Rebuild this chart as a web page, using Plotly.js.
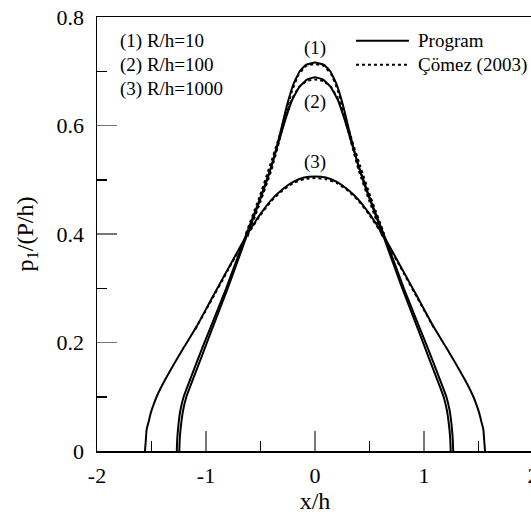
<!DOCTYPE html>
<html>
<head>
<meta charset="utf-8">
<script src="https://cdn.plot.ly/plotly-3.0.1.min.js"></script>
<style>
html, body { margin: 0; padding: 0; background: #fff; }
#wrap { width: 531px; height: 518px; overflow: hidden; position: relative; }
</style>
</head>
<body>
<div id="wrap"><div id="chart" style="width:540px;height:518px"></div></div>
<script>
// ---- Data ----
// Program, (1) R/h=10
const x1 = [-1.245, -1.240, -1.228, -1.210, -1.180, -1.120, -1.040, -0.950, -0.800, -0.620, -0.500, -0.400, -0.320, -0.260, -0.200, -0.140, -0.080, 0.000,
             0.080, 0.140, 0.200, 0.260, 0.320, 0.400, 0.500, 0.620, 0.800, 0.950, 1.040, 1.120, 1.180, 1.210, 1.228, 1.240, 1.245];
const p1 = [0.000, 0.025, 0.050, 0.075, 0.100, 0.132, 0.174, 0.222, 0.300, 0.400, 0.465, 0.525, 0.585, 0.635, 0.675, 0.700, 0.712, 0.716,
            0.712, 0.700, 0.675, 0.635, 0.585, 0.525, 0.465, 0.400, 0.300, 0.222, 0.174, 0.132, 0.100, 0.075, 0.050, 0.025, 0.000];
// Program, (2) R/h=100
const x2 = [-1.268, -1.263, -1.252, -1.235, -1.205, -1.145, -1.065, -0.970, -0.815, -0.630, -0.505, -0.405, -0.330, -0.270, -0.210, -0.140, -0.070, 0.000,
             0.070, 0.140, 0.210, 0.270, 0.330, 0.405, 0.505, 0.630, 0.815, 0.970, 1.065, 1.145, 1.205, 1.235, 1.252, 1.263, 1.268];
const p2 = [0.000, 0.025, 0.050, 0.075, 0.100, 0.132, 0.174, 0.222, 0.300, 0.400, 0.465, 0.522, 0.572, 0.612, 0.647, 0.672, 0.685, 0.689,
            0.685, 0.672, 0.647, 0.612, 0.572, 0.522, 0.465, 0.400, 0.300, 0.222, 0.174, 0.132, 0.100, 0.075, 0.050, 0.025, 0.000];
// Program, (3) R/h=1000
const x3 = [-1.560, -1.552, -1.545, -1.525, -1.507, -1.480, -1.453, -1.400, -1.300, -1.200, -1.085, -0.950, -0.800, -0.620, -0.500, -0.400, -0.300, -0.200, -0.100, 0.000,
             0.100, 0.200, 0.300, 0.400, 0.500, 0.620, 0.800, 0.950, 1.085, 1.200, 1.300, 1.400, 1.453, 1.480, 1.507, 1.525, 1.545, 1.552, 1.560];
const p3 = [0.000, 0.020, 0.039, 0.055, 0.070, 0.086, 0.100, 0.122, 0.158, 0.192, 0.230, 0.280, 0.335, 0.400, 0.437, 0.463, 0.482, 0.496, 0.504, 0.506,
            0.504, 0.496, 0.482, 0.463, 0.437, 0.400, 0.335, 0.280, 0.230, 0.192, 0.158, 0.122, 0.100, 0.086, 0.070, 0.055, 0.039, 0.020, 0.000];
// Çömez (2003), dotted
const xc1 = [-0.620, -0.500, -0.400, -0.330, -0.270, -0.210, -0.150, -0.080, 0.000, 0.080, 0.150, 0.210, 0.270, 0.330, 0.400, 0.500, 0.620];
const pc1 = [0.395, 0.460, 0.518, 0.570, 0.620, 0.664, 0.694, 0.710, 0.713, 0.710, 0.694, 0.664, 0.620, 0.570, 0.518, 0.460, 0.395];
const xc2 = [-0.635, -0.510, -0.415, -0.340, -0.280, -0.220, -0.150, -0.075, 0.000, 0.075, 0.150, 0.220, 0.280, 0.340, 0.415, 0.510, 0.635];
const pc2 = [0.400, 0.468, 0.525, 0.572, 0.612, 0.645, 0.670, 0.682, 0.685, 0.682, 0.670, 0.645, 0.612, 0.572, 0.525, 0.468, 0.400];
const xc3 = [-1.100, -0.950, -0.800, -0.620, -0.500, -0.400, -0.300, -0.200, -0.100, 0.000, 0.100, 0.200, 0.300, 0.400, 0.500, 0.620, 0.800, 0.950, 1.100];
const pc3 = [0.224, 0.278, 0.333, 0.398, 0.435, 0.461, 0.480, 0.494, 0.501, 0.503, 0.501, 0.494, 0.480, 0.461, 0.435, 0.398, 0.333, 0.278, 0.224];

const xTickVals = [-2, -1, 0, 1, 2];
const xTickText = ['-2', '-1', '0', '1', '2'];
const yTickVals = [0, 0.2, 0.4, 0.6, 0.8];
const yTickText = ['0', '0.2', '0.4', '0.6', '0.8'];
const curveLabels = ['(1)', '(2)', '(3)'];
const caseLabels = ['(1) R/h=10', '(2) R/h=100', '(3) R/h=1000'];
const seriesNames = ['Program', 'Çömez (2003)'];

// ---- Chart ----
const FONT = 'Liberation Serif';
const solid = {color: '#000', width: 2, shape: 'spline', smoothing: 0.4};
const dotted = {color: '#000', width: 2, dash: 'dot', shape: 'spline', smoothing: 0.4};

const traces = [
  {x: x1, y: p1, mode: 'lines', line: solid, showlegend: false},
  {x: x2, y: p2, mode: 'lines', line: solid, showlegend: false},
  {x: x3, y: p3, mode: 'lines', line: solid, showlegend: false},
  {x: xc1, y: pc1, mode: 'lines', line: dotted, showlegend: false},
  {x: xc2, y: pc2, mode: 'lines', line: dotted, showlegend: false},
  {x: xc3, y: pc3, mode: 'lines', line: dotted, showlegend: false}
];

const annotations = [];
const curveLabelY = [0.743, 0.643, 0.533];
curveLabels.forEach((t, i) => annotations.push({
  x: 0, y: curveLabelY[i], xref: 'x', yref: 'y', text: t, showarrow: false,
  font: {family: FONT, size: 19}, xanchor: 'center', yanchor: 'middle'
}));
const caseLabelY = [0.755, 0.712, 0.668];
caseLabels.forEach((t, i) => annotations.push({
  x: -1.81, y: caseLabelY[i], xref: 'x', yref: 'y', text: t, showarrow: false,
  font: {family: FONT, size: 19}, xanchor: 'left', yanchor: 'middle'
}));
const legY = [0.756, 0.712];
seriesNames.forEach((t, i) => annotations.push({
  x: 0.93, y: legY[i], xref: 'x', yref: 'y', text: t, showarrow: false,
  font: {family: FONT, size: 19}, xanchor: 'left', yanchor: 'middle'
}));
const shapes = [
  {type: 'line', xref: 'x', yref: 'y', x0: 0.376, x1: 0.862, y0: legY[0], y1: legY[0], line: {color: '#000', width: 2}},
  {type: 'line', xref: 'x', yref: 'y', x0: 0.376, x1: 0.862, y0: legY[1], y1: legY[1], line: {color: '#000', width: 2, dash: 'dot'}}
];

const layout = {
  width: 540, height: 518,
  margin: {l: 97, r: 7, t: 17, b: 67},
  paper_bgcolor: '#fff', plot_bgcolor: '#fff',
  font: {family: FONT, color: '#000'},
  showlegend: false,
  xaxis: {
    range: [-2, 2], showgrid: false, zeroline: false,
    showline: true, linecolor: '#000', linewidth: 1.5, mirror: true,
    ticks: 'inside', ticklen: 20, tickwidth: 1.5, tickcolor: '#777',
    tickvals: xTickVals, ticktext: xTickText, ticklabelstandoff: 4,
    minor: {ticks: 'inside', ticklen: 10, tickwidth: 1.5, tickcolor: '#000', dtick: 0.5, tick0: 0, showgrid: false},
    tickfont: {family: FONT, size: 22},
    title: {text: 'x/h', font: {family: FONT, size: 24}, standoff: 4}
  },
  yaxis: {
    range: [0, 0.8], showgrid: false, zeroline: false,
    showline: true, linecolor: '#000', linewidth: 1.5,
    ticks: 'inside', ticklen: 20, tickwidth: 1.5, tickcolor: '#777',
    tickvals: yTickVals, ticktext: yTickText, ticklabelstandoff: 7,
    minor: {ticks: 'inside', ticklen: 10, tickwidth: 1.5, tickcolor: '#000', dtick: 0.1, tick0: 0, showgrid: false},
    tickfont: {family: FONT, size: 22},
    title: {text: 'p<sub>1</sub>/(P/h)', font: {family: FONT, size: 24}, standoff: 16}
  },
  annotations: annotations,
  shapes: shapes
};

Plotly.newPlot('chart', traces, layout, {displayModeBar: false, staticPlot: true});
</script>
</body>
</html>
